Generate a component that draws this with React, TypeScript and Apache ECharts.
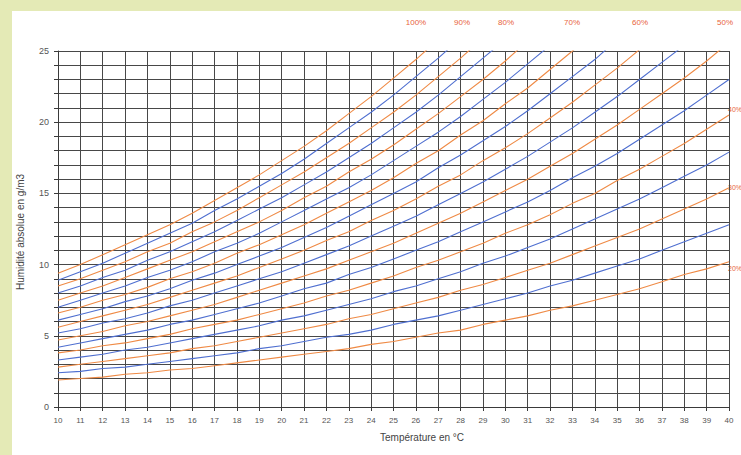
import React, { useEffect, useRef } from "react";
import * as echarts from "echarts";

// Temperatures (°C) along the x axis
const temperatures = [10, 11, 12, 13, 14, 15, 16, 17, 18, 19, 20, 21, 22, 23, 24, 25, 26, 27, 28, 29, 30, 31, 32, 33, 34, 35, 36, 37, 38, 39, 40];

// Absolute humidity (g/m3) for each relative humidity curve, read per degree from 10 °C
const rh100 = [9.4, 10.0, 10.7, 11.4, 12.1, 12.8, 13.6, 14.5, 15.4, 16.3, 17.3, 18.3, 19.4, 20.6, 21.8, 23.1, 24.4, 25.8];
const rh95 = [8.9, 9.5, 10.1, 10.8, 11.5, 12.2, 12.9, 13.8, 14.6, 15.5, 16.4, 17.4, 18.5, 19.6, 20.7, 21.9, 23.2, 24.5, 25.9];
const rh90 = [8.5, 9.0, 9.6, 10.2, 10.9, 11.5, 12.3, 13.0, 13.8, 14.7, 15.6, 16.5, 17.5, 18.5, 19.6, 20.7, 21.9, 23.2, 24.5, 25.9];
const rh85 = [8.0, 8.5, 9.1, 9.6, 10.3, 10.9, 11.6, 12.3, 13.1, 13.9, 14.7, 15.6, 16.5, 17.5, 18.5, 19.6, 20.7, 21.9, 23.2, 24.5, 25.8];
const rh80 = [7.5, 8.0, 8.5, 9.1, 9.7, 10.3, 10.9, 11.6, 12.3, 13.0, 13.8, 14.7, 15.5, 16.5, 17.4, 18.4, 19.5, 20.6, 21.8, 23.0, 24.3, 25.7];
const rh75 = [7.0, 7.5, 8.0, 8.5, 9.1, 9.6, 10.2, 10.9, 11.5, 12.2, 13.0, 13.8, 14.6, 15.4, 16.3, 17.3, 18.3, 19.3, 20.4, 21.6, 22.8, 24.1, 25.4];
const rh70 = [6.6, 7.0, 7.5, 7.9, 8.4, 9.0, 9.5, 10.1, 10.8, 11.4, 12.1, 12.8, 13.6, 14.4, 15.2, 16.1, 17.1, 18.0, 19.1, 20.1, 21.3, 22.4, 23.7, 25.0, 26.3];
const rh65 = [6.1, 6.5, 6.9, 7.4, 7.8, 8.3, 8.9, 9.4, 10.0, 10.6, 11.2, 11.9, 12.6, 13.4, 14.2, 15.0, 15.8, 16.8, 17.7, 18.7, 19.7, 20.8, 22.0, 23.2, 24.4, 25.8];
const rh60 = [5.6, 6.0, 6.4, 6.8, 7.2, 7.7, 8.2, 8.7, 9.2, 9.8, 10.4, 11.0, 11.7, 12.3, 13.1, 13.8, 14.6, 15.5, 16.3, 17.3, 18.2, 19.2, 20.3, 21.4, 22.6, 23.8, 25.1];
const rh55 = [5.2, 5.5, 5.9, 6.2, 6.6, 7.1, 7.5, 8.0, 8.5, 9.0, 9.5, 10.1, 10.7, 11.3, 12.0, 12.7, 13.4, 14.2, 15.0, 15.8, 16.7, 17.6, 18.6, 19.6, 20.7, 21.8, 23.0, 24.2, 25.4];
const rh50 = [4.7, 5.0, 5.3, 5.7, 6.0, 6.4, 6.8, 7.2, 7.7, 8.2, 8.7, 9.2, 9.7, 10.3, 10.9, 11.5, 12.2, 12.9, 13.6, 14.4, 15.2, 16.0, 16.9, 17.8, 18.8, 19.8, 20.9, 22.0, 23.1, 24.3, 25.6];
const rh45 = [4.2, 4.5, 4.8, 5.1, 5.4, 5.8, 6.1, 6.5, 6.9, 7.3, 7.8, 8.3, 8.7, 9.3, 9.8, 10.4, 11.0, 11.6, 12.3, 13.0, 13.7, 14.4, 15.2, 16.1, 16.9, 17.8, 18.8, 19.8, 20.8, 21.9, 23.0];
const rh40 = [3.8, 4.0, 4.3, 4.5, 4.8, 5.1, 5.5, 5.8, 6.1, 6.5, 6.9, 7.3, 7.8, 8.2, 8.7, 9.2, 9.8, 10.3, 10.9, 11.5, 12.2, 12.8, 13.5, 14.3, 15.0, 15.9, 16.7, 17.6, 18.5, 19.5, 20.5];
const rh35 = [3.3, 3.5, 3.7, 4.0, 4.2, 4.5, 4.8, 5.1, 5.4, 5.7, 6.1, 6.4, 6.8, 7.2, 7.6, 8.1, 8.5, 9.0, 9.5, 10.1, 10.6, 11.2, 11.8, 12.5, 13.2, 13.9, 14.6, 15.4, 16.2, 17.0, 17.9];
const rh30 = [2.8, 3.0, 3.2, 3.4, 3.6, 3.8, 4.1, 4.3, 4.6, 4.9, 5.2, 5.5, 5.8, 6.2, 6.5, 6.9, 7.3, 7.7, 8.2, 8.6, 9.1, 9.6, 10.1, 10.7, 11.3, 11.9, 12.5, 13.2, 13.9, 14.6, 15.4];
const rh25 = [2.4, 2.5, 2.7, 2.8, 3.0, 3.2, 3.4, 3.6, 3.8, 4.1, 4.3, 4.6, 4.9, 5.1, 5.4, 5.8, 6.1, 6.4, 6.8, 7.2, 7.6, 8.0, 8.5, 8.9, 9.4, 9.9, 10.4, 11.0, 11.6, 12.2, 12.8];
const rh20 = [1.9, 2.0, 2.1, 2.3, 2.4, 2.6, 2.7, 2.9, 3.1, 3.3, 3.5, 3.7, 3.9, 4.1, 4.4, 4.6, 4.9, 5.2, 5.4, 5.8, 6.1, 6.4, 6.8, 7.1, 7.5, 7.9, 8.3, 8.8, 9.3, 9.7, 10.2];

const curveNames = ["100%", "95%", "90%", "85%", "80%", "75%", "70%", "65%", "60%", "55%", "50%", "45%", "40%", "35%", "30%", "25%", "20%"];
const curveValues = [rh100, rh95, rh90, rh85, rh80, rh75, rh70, rh65, rh60, rh55, rh50, rh45, rh40, rh35, rh30, rh25, rh20];

// Labels written on the chart
const yLabelValues = [0, 5, 10, 15, 20, 25];
const topLabels = ["100%", "90%", "80%", "70%", "60%", "50%"];
const rightLabels = ["40%", "30%", "20%"];

const ORANGE = "#ef8a45";
const BLUE = "#4f6fd0";
const LABEL_RED = "#e8643c";

export default function App() {
  const ref = useRef<HTMLDivElement>(null);

  useEffect(() => {
    if (!ref.current) return;
    const chart = echarts.init(ref.current, undefined, { renderer: "svg" });

    const series = curveValues.map((vals, i) => ({
      name: curveNames[i],
      type: "line",
      data: vals.map((v, j) => [temperatures[j], v]),
      symbol: "none",
      clip: true,
      lineStyle: { width: 1.1, color: i % 2 === 0 ? ORANGE : BLUE },
      z: 3,
    }));

    const topX = [404, 450, 494, 560, 628, 713];
    const rightY = [98, 176, 257];

    const graphic: any[] = [];
    topLabels.forEach((t, i) =>
      graphic.push({
        type: "text",
        x: topX[i],
        y: 11,
        style: { text: t, fill: LABEL_RED, font: "8px Arial", align: "center", verticalAlign: "middle" },
      })
    );
    rightLabels.forEach((t, i) =>
      graphic.push({
        type: "text",
        x: 716,
        y: rightY[i],
        style: { text: t, fill: LABEL_RED, font: "7px Arial", align: "left", verticalAlign: "middle" },
      })
    );
    graphic.push({
      type: "text",
      x: 8,
      y: 221,
      rotation: Math.PI / 2,
      style: { text: "Humidité absolue en g/m3", fill: "#444", font: "10px Arial", align: "center", verticalAlign: "middle" },
    });
    graphic.push({
      type: "text",
      x: 410,
      y: 426,
      style: { text: "Température en °C", fill: "#444", font: "10px Arial", align: "center", verticalAlign: "middle" },
    });

    chart.setOption({
      animation: false,
      backgroundColor: "#ffffff",
      grid: { left: 46, right: 12, top: 40, bottom: 48 },
      xAxis: {
        type: "value",
        min: 10,
        max: 40,
        interval: 1,
        axisLine: { show: true, onZero: false, lineStyle: { color: "#3a3a3a", width: 1 } },
        axisTick: { show: true, length: 4, lineStyle: { color: "#3a3a3a" } },
        axisLabel: { fontSize: 8, color: "#555", margin: 9, fontFamily: "Arial" },
        splitLine: { show: true, lineStyle: { color: "#484848", width: 1 } },
      },
      yAxis: {
        type: "value",
        min: 0,
        max: 25,
        interval: 1,
        axisLine: { show: true, lineStyle: { color: "#3a3a3a", width: 1 } },
        axisTick: { show: true, length: 4, lineStyle: { color: "#3a3a3a" } },
        axisLabel: {
          fontSize: 9,
          color: "#555",
          margin: 9,
          fontFamily: "Arial",
          formatter: (v: number) => (yLabelValues.includes(v) ? String(v) : ""),
        },
        splitLine: { show: true, lineStyle: { color: "#484848", width: 1 } },
      },
      graphic,
      series,
    });

    return () => chart.dispose();
  }, []);

  return (
    <div style={{ position: "absolute", left: 0, top: 0, width: 741, height: 455, background: "#e4eab6", overflow: "hidden" }}>
      <div ref={ref} style={{ position: "absolute", left: 12, top: 11, width: 729, height: 444, background: "#ffffff" }} />
    </div>
  );
}
